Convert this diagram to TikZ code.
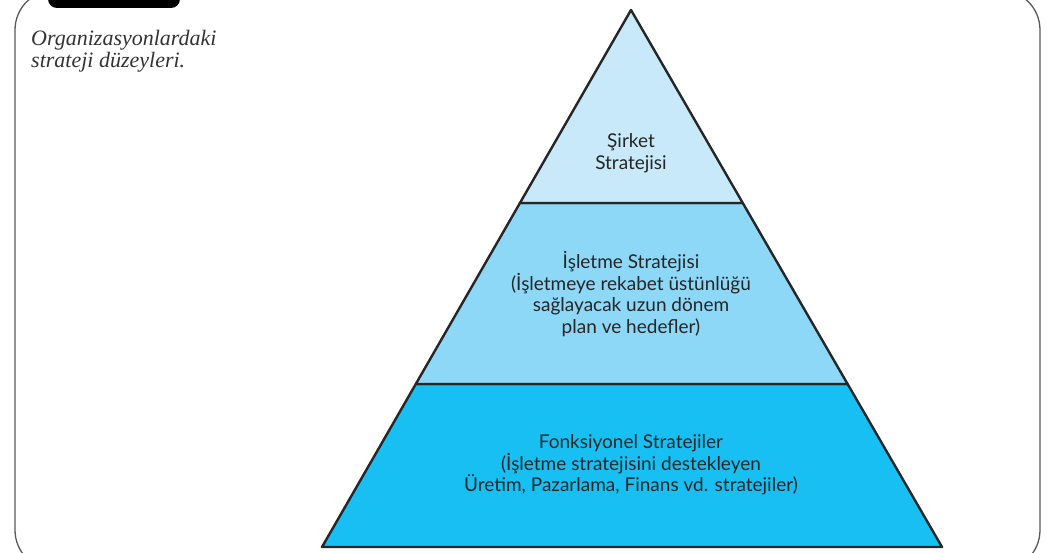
\documentclass[tikz,border=0pt]{standalone}
\usepackage{fontspec}
\setmainfont{Lato}
\newfontfamily\captionfont{Liberation Serif}
\usetikzlibrary{positioning,calc}
\definecolor{tierone}{HTML}{C7E9F9}
\definecolor{tiertwo}{HTML}{8DD7F7}
\definecolor{tierthree}{HTML}{17BFF2}
\tikzset{tier/.style={draw=black!85, line width=2.4pt, line join=round},
	tiertext/.style={align=center, font=\fontsize{19}{21.5}\selectfont, text=black!85, inner sep=1pt}}

\begin{document}
\begin{tikzpicture}[x=1pt, y=-1pt]
\useasboundingbox (0,0) rectangle (1055,553);
% frame and tab
\draw[black!65, line width=1.3pt, rounded corners=40pt] (15,-10) rectangle (1040,570);
\fill[black, rounded corners=9pt] (48,-30) rectangle (180,8);
\node[anchor=north west, align=left, inner sep=0pt, font=\captionfont\itshape\fontsize{22}{22}\selectfont, text=black!80] (caption) at (31,30) {Organizasyonlardaki\\strateji düzeyleri.};
% pyramid
\coordinate (apex) at (631,10);
\coordinate (bl) at (322,547);
\coordinate (br) at (942,547);
\coordinate (ml1) at ($(apex)!0.3594!(bl)$);
\coordinate (mr1) at ($(apex)!0.3594!(br)$);
\coordinate (ml2) at ($(apex)!0.6965!(bl)$);
\coordinate (mr2) at ($(apex)!0.6965!(br)$);
\filldraw[tier, fill=tierthree] (ml2) -- (mr2) -- (br) -- (bl) -- cycle;
\filldraw[tier, fill=tiertwo] (ml1) -- (mr1) -- (mr2) -- (ml2) -- cycle;
\filldraw[tier, fill=tierone] (apex) -- (mr1) -- (ml1) -- cycle;
\node[tiertext] (sirket) at (631,153) {Şirket\\Stratejisi};
\node[tiertext] (isletme) at (631,294) {İşletme Stratejisi\\(İşletmeye rekabet üstünlüğü\\sağlayacak uzun dönem\\plan ve hedefler)};
\node[tiertext] (fonksiyonel) at (631,465) {Fonksiyonel Stratejiler\\(İşletme stratejisini destekleyen\\Üretim, Pazarlama, Finans vd. stratejiler)};
\end{tikzpicture}
\end{document}
